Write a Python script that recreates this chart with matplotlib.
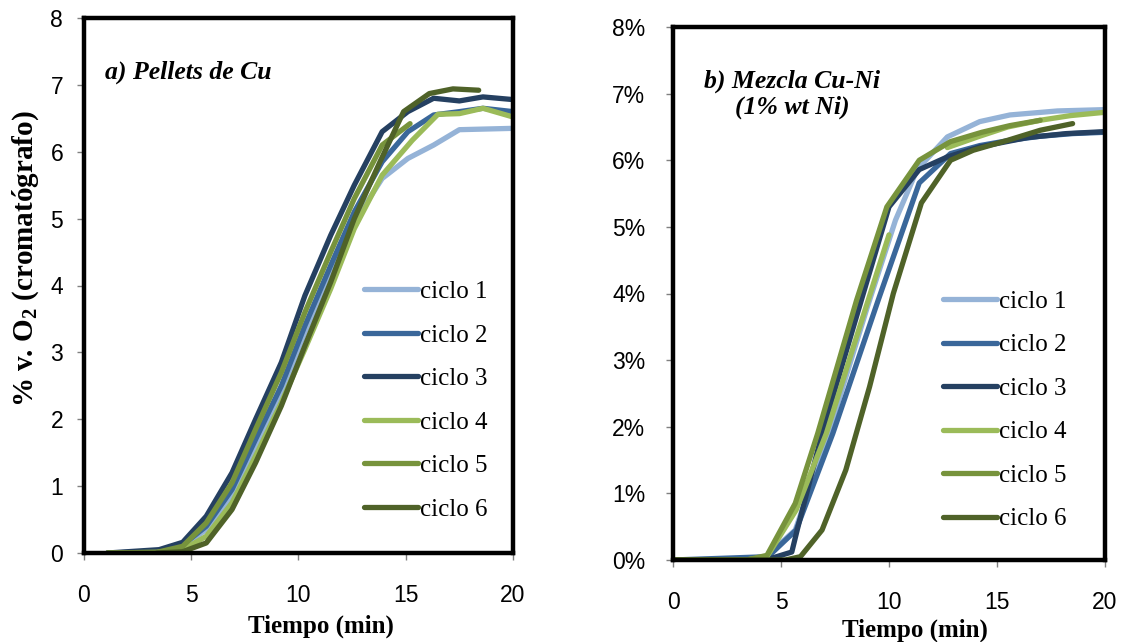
import matplotlib
matplotlib.use('Agg')
import matplotlib.pyplot as plt
import numpy as np
from matplotlib.ticker import StrMethodFormatter

plt.rcParams['font.family'] = ['Liberation Sans', 'DejaVu Sans']
plt.rcParams['mathtext.fontset'] = 'custom'
plt.rcParams['mathtext.rm'] = 'Liberation Serif:bold'
plt.rcParams['mathtext.default'] = 'rm'

labels = ['ciclo 1', 'ciclo 2', 'ciclo 3', 'ciclo 4', 'ciclo 5', 'ciclo 6']
colors = ['#95B3D7', '#3A679A', '#254061', '#9BBB59', '#77933C', '#4F6228']

# a) Pellets de Cu  (% v. O2)
a1_x = [1.1, 3.4, 4.6, 5.7, 6.9, 8.0, 9.2, 10.3, 11.5, 12.6, 13.9, 15.1, 16.3, 17.5, 20.0]
a1_y = [0, 0.02, 0.1, 0.35, 0.85, 1.55, 2.4, 3.3, 4.2, 4.95, 5.6, 5.9, 6.1, 6.33, 6.35]
a2_x = [1.1, 3.4, 4.6, 5.7, 6.9, 8.0, 9.2, 10.3, 11.5, 12.6, 13.9, 15.1, 16.3, 17.5, 18.6, 20.0]
a2_y = [0, 0.02, 0.12, 0.4, 0.95, 1.7, 2.5, 3.4, 4.3, 5.1, 5.85, 6.3, 6.55, 6.6, 6.65, 6.6]
a3_x = [1.1, 3.5, 4.6, 5.7, 6.9, 8.0, 9.2, 10.3, 11.5, 12.6, 13.9, 15.1, 16.3, 17.5, 18.6, 20.0]
a3_y = [0, 0.05, 0.16, 0.55, 1.2, 2.0, 2.85, 3.85, 4.75, 5.5, 6.3, 6.6, 6.8, 6.76, 6.82, 6.78]
a4_x = [1.1, 3.4, 4.6, 5.7, 6.9, 8.0, 9.2, 10.3, 11.5, 12.6, 13.9, 15.3, 16.5, 17.5, 18.6, 20.0]
a4_y = [0, 0.01, 0.05, 0.25, 0.75, 1.45, 2.25, 3.05, 3.95, 4.85, 5.65, 6.17, 6.56, 6.57, 6.65, 6.52]
a5_x = [1.1, 3.4, 4.6, 5.7, 6.9, 8.0, 9.2, 10.3, 11.5, 12.6, 13.9, 15.2]
a5_y = [0, 0.01, 0.1, 0.45, 1.05, 1.85, 2.7, 3.6, 4.5, 5.3, 6.1, 6.42]
a6_x = [3.4, 4.6, 5.7, 6.9, 8.0, 9.2, 10.3, 11.5, 12.6, 13.8, 14.9, 16.1, 17.2, 18.4]
a6_y = [0, 0.02, 0.15, 0.65, 1.35, 2.2, 3.1, 4.05, 5.0, 5.85, 6.6, 6.87, 6.94, 6.92]

# b) Mezcla Cu-Ni (1% wt Ni)  (%)
b1_x = [0, 4.2, 5.66, 7.2, 9.0, 10.3, 11.3, 12.7, 14.2, 15.6, 17.8, 20.0]
b1_y = [0, 0.02, 0.45, 1.9, 3.8, 5.1, 5.86, 6.35, 6.58, 6.68, 6.74, 6.76]
b2_x = [0, 4.4, 5.7, 7.4, 9.5, 11.4, 12.85, 14.2, 15.6, 17.0, 18.5, 20.0]
b2_y = [0, 0.05, 0.45, 1.9, 3.9, 5.66, 6.1, 6.22, 6.3, 6.36, 6.4, 6.42]
b3_x = [0, 4.3, 5.5, 5.75, 6.9, 8.4, 10.0, 11.4, 12.7, 14.2, 16.4, 18.2, 20.0]
b3_y = [0, 0.0, 0.12, 0.45, 1.9, 3.55, 5.3, 5.86, 6.05, 6.2, 6.34, 6.4, 6.43]
b4_x = [0, 3.4, 4.35, 5.7, 7.1, 8.35, 10.0, 11.3, 12.7, 14.1, 15.5, 17.0, 18.4, 20.0]
b4_y = [0, 0.0, 0.05, 0.75, 1.9, 3.2, 4.88, np.nan, 6.19, 6.35, 6.5, 6.6, 6.67, 6.72]
b5_x = [0, 3.4, 4.35, 5.66, 6.7, 8.5, 9.9, 11.4, 12.85, 14.3, 15.6, 17.0]
b5_y = [0, 0.0, 0.07, 0.85, 1.9, 3.9, 5.3, 6.0, 6.28, 6.42, 6.52, 6.6]
b6_x = [0, 5.2, 5.9, 6.9, 8.0, 9.1, 10.2, 11.5, 12.85, 13.9, 15.5, 17.0, 18.5]
b6_y = [0, 0, 0.05, 0.45, 1.35, 2.6, 4.0, 5.36, 6.0, 6.15, 6.3, 6.45, 6.55]

series_a = [(a1_x, a1_y), (a2_x, a2_y), (a3_x, a3_y), (a4_x, a4_y), (a5_x, a5_y), (a6_x, a6_y)]
series_b = [(b1_x, b1_y), (b2_x, b2_y), (b3_x, b3_y), (b4_x, b4_y), (b5_x, b5_y), (b6_x, b6_y)]

fig = plt.figure(figsize=(11.22, 6.42), dpi=100)
ax1 = fig.add_axes([84 / 1122, 1 - 553 / 642, 429 / 1122, 535 / 642])
ax2 = fig.add_axes([673 / 1122, 1 - 560 / 642, 432 / 1122, 533 / 642])

serif = 'Liberation Serif'


def style(ax, legend_anchor, ypad):
    ax.set_xlim(0, 20)
    ax.set_ylim(0, 8)
    ax.set_xticks([0, 5, 10, 15, 20])
    ax.set_yticks(range(9))
    for s in ax.spines.values():
        s.set_linewidth(3.2)
        s.set_color('black')
    ax.tick_params(axis='both', direction='out', length=5, width=1, color='#808080',
                   labelsize=16.5, top=False, right=False)
    ax.tick_params(axis='x', pad=17)
    ax.tick_params(axis='y', pad=ypad)
    ax.set_xlabel('Tiempo (min)', fontfamily=serif, fontweight='bold', fontsize=18)
    ax.legend(loc='upper left', bbox_to_anchor=legend_anchor, frameon=False,
              prop={'family': serif, 'size': 18}, borderpad=0, borderaxespad=0,
              handlelength=2.16, handletextpad=0.08, labelspacing=0.84)


for (x, y), c, lab in zip(series_a, colors, labels):
    ax1.plot(x, y, color=c, lw=3.8, label=lab, solid_capstyle='round')
for (x, y), c, lab in zip(series_b, colors, labels):
    ax2.plot(x, y, color=c, lw=3.8, label=lab, solid_capstyle='round')

style(ax1, (0.653, 0.509), 10)
style(ax2, (0.625, 0.506), 15)

ax2.yaxis.set_major_formatter(StrMethodFormatter('{x:.0f}%'))

ax1.set_ylabel(r'% v. O$_2$ (cromatógrafo)', fontfamily=serif, fontweight='bold', fontsize=21)
ax1.yaxis.set_label_coords(-0.1, 0.55)
ax1.xaxis.set_label_coords(0.552, -0.116)
ax2.xaxis.set_label_coords(0.56, -0.11)

ax1.text(0.049, 0.899, 'a) Pellets de Cu', transform=ax1.transAxes, fontfamily=serif,
         fontweight='bold', fontstyle='italic', fontsize=18.5, va='center', ha='left')
ax2.text(0.276, 0.874, 'b) Mezcla Cu-Ni\n(1% wt Ni)', transform=ax2.transAxes, fontfamily=serif,
         fontweight='bold', fontstyle='italic', fontsize=18.5, va='center', ha='center',
         multialignment='center', linespacing=1.15)

fig.savefig('out.png', dpi=100)
